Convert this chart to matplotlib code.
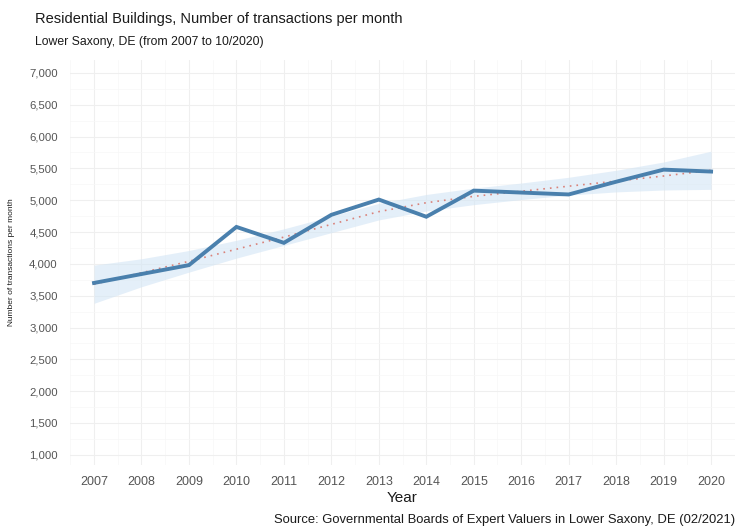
import matplotlib
matplotlib.use("Agg")
import matplotlib.pyplot as plt
from matplotlib.ticker import FuncFormatter, MultipleLocator

plt.rcParams["font.family"] = ["Liberation Sans", "DejaVu Sans"]

# data
years = [2007, 2008, 2009, 2010, 2011, 2012, 2013, 2014, 2015, 2016, 2017, 2018, 2019, 2020]
transactions = [3700, 3840, 3980, 4580, 4330, 4770, 5010, 4740, 5150, 5120, 5090, 5290, 5480, 5450]

# smoothed trend and its confidence band
trend = [3680, 3860, 4040, 4230, 4420, 4620, 4820, 4960, 5060, 5140, 5220, 5300, 5380, 5470]
trend_lo = [3380, 3640, 3870, 4090, 4290, 4490, 4690, 4830, 4930, 5010, 5080, 5130, 5160, 5170]
trend_hi = [3980, 4080, 4210, 4370, 4550, 4750, 4950, 5090, 5190, 5270, 5360, 5470, 5600, 5770]

y_ticks = [1000, 1500, 2000, 2500, 3000, 3500, 4000, 4500, 5000, 5500, 6000, 6500, 7000]

fig = plt.figure(figsize=(7.4, 5.3), dpi=100)
ax = fig.add_axes([0.095, 0.123, 0.898, 0.764])

# confidence band + dotted trend
ax.fill_between(years, trend_lo, trend_hi, color="#d3e5f5", alpha=0.6, linewidth=0, zorder=1)
ax.plot(years, trend, color="#d9827a", linestyle=(0, (1, 3)), linewidth=1.2, zorder=2)

# main series
ax.plot(years, transactions, color="#4a80ad", linewidth=2.8, solid_joinstyle="miter", zorder=3)

ax.set_xlim(2006.5, 2020.5)
ax.set_ylim(843, 7204)
ax.set_xticks(years)
ax.set_yticks(y_ticks)
ax.xaxis.set_minor_locator(MultipleLocator(0.5))
ax.yaxis.set_minor_locator(MultipleLocator(250))
ax.yaxis.set_major_formatter(FuncFormatter(lambda v, p: f"{int(v):,}"))

ax.grid(which="major", color="#efefef", linewidth=0.8)
ax.grid(which="minor", color="#f7f7f7", linewidth=0.5)
ax.set_axisbelow(True)
for s in ax.spines.values():
    s.set_visible(False)
ax.tick_params(which="both", length=0)
ax.tick_params(axis="y", labelsize=8.2, labelcolor="#555555", pad=9)
ax.tick_params(axis="x", labelsize=9, labelcolor="#555555", pad=8)

ax.set_xlabel("Year", fontsize=11, color="#1a1a1a", labelpad=2)
ax.set_ylabel("Number of transactions per month", fontsize=6, color="#1a1a1a", labelpad=10)

fig.text(0.047, 0.965, "Residential Buildings, Number of transactions per month",
         fontsize=10.5, color="#1a1a1a", va="center")
fig.text(0.047, 0.921, "Lower Saxony, DE (from 2007 to 10/2020)",
         fontsize=8.8, color="#1a1a1a", va="center")
fig.text(0.993, 0.018, "Source: Governmental Boards of Expert Valuers in Lower Saxony, DE (02/2021)",
         fontsize=9.4, color="#1a1a1a", ha="right", va="center")

fig.savefig("out.png", dpi=100, facecolor="white")
